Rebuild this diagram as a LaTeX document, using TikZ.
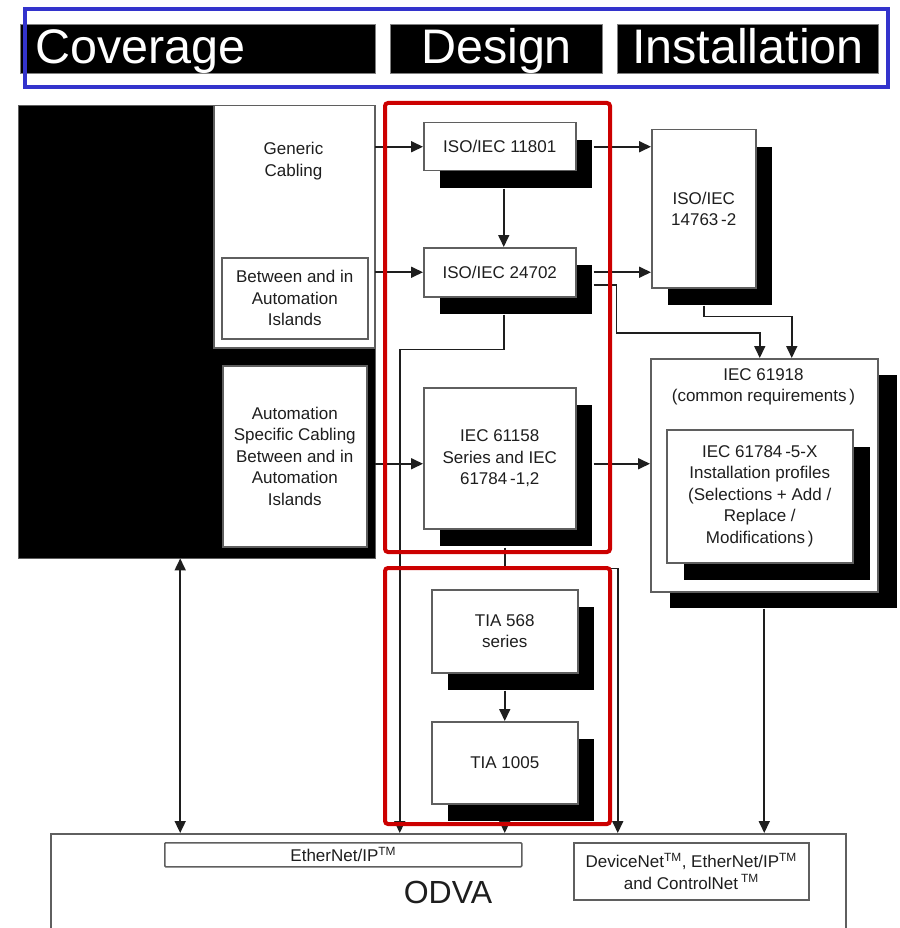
\documentclass[tikz,border=0pt]{standalone}
\usepackage{fontspec}
\setmainfont{Liberation Sans}
\usetikzlibrary{arrows.meta,shadows}
\definecolor{redf}{RGB}{204,0,0}
\definecolor{bluef}{RGB}{51,51,204}
\definecolor{edge}{RGB}{95,95,95}
\definecolor{ink}{RGB}{30,30,30}
\pgfdeclarelayer{front}
\pgfsetlayers{main,front}
\tikzset{
  every node/.style={font=\fontsize{17}{21.5}\selectfont, align=center, text=ink},
  stdbox/.style={draw=edge, line width=1.5pt, fill=white, anchor=north west, inner sep=0pt},
  shd/.style={drop shadow={shadow xshift=16pt, shadow yshift=-17pt, opacity=1, fill=black}},
  arr/.style={line width=1.7pt, draw=ink, -{Triangle[length=12pt,width=11pt]}},
  arrb/.style={line width=1.7pt, draw=ink, {Triangle[length=12pt,width=11pt]}-{Triangle[length=12pt,width=11pt]}},
  bar/.style={fill=black, draw=gray, line width=1pt, text=white, anchor=north west, inner sep=0pt,
    text height=37pt, text depth=8pt, font=\fontsize{48.5}{52}\selectfont},
  redframe/.style={draw=redf, line width=4pt, rounded corners=3pt, anchor=north west, inner sep=0pt},
}
\begin{document}
\begin{tikzpicture}[x=1pt,y=-1pt]
\useasboundingbox (0,0) rectangle (899,928);

% header bars
\node[bar, minimum width=355, minimum height=49, text width=325, align=left] (cov) at (20,24) {Coverage};
\node[bar, minimum width=212, minimum height=49] (des) at (390,24) {Design};
\node[bar, minimum width=261, minimum height=49] (inst) at (617,24) {Installation};
\node[draw=bluef, line width=4pt, anchor=north west, inner sep=0pt, minimum width=863, minimum height=78] (hdr) at (23,7) {};

% coverage column
\node[fill=black, draw=edge, anchor=north west, inner sep=0pt, minimum width=357, minimum height=453] (covblk) at (18,105) {};
\node[stdbox, minimum width=161, minimum height=242] (generic) at (213,105) {};
\node (generictxt) at (293.5,161) {Generic\\Cabling};
\node[stdbox, minimum width=146, minimum height=81] (betw) at (221,257) {Between and in\\Automation\\Islands};
\node[stdbox, minimum width=144, minimum height=181] (autos) at (222,365) {Automation\\Specific Cabling\\Between and in\\Automation\\Islands};

% design column
\node[stdbox, shd, minimum width=152, minimum height=48] (i11801) at (423,122) {ISO/IEC 11801};
\node[stdbox, shd, minimum width=152, minimum height=49] (i24702) at (423,247) {ISO/IEC 24702};
\node[stdbox, shd, minimum width=152, minimum height=141] (i61158) at (423,387) {IEC 61158\\Series and IEC\\61784\,-1,2};
\node[stdbox, shd, minimum width=146, minimum height=83] (t568) at (431,589) {TIA 568\\series};
\node[stdbox, shd, minimum width=146, minimum height=82] (t1005) at (431,721) {TIA 1005};

% installation column
\node[stdbox, shd, minimum width=104, minimum height=158] (i14763) at (651,129) {ISO/IEC\\14763\,-2};
\node[stdbox, drop shadow={shadow xshift=19pt, shadow yshift=-16pt, opacity=1, fill=black}, minimum width=227, minimum height=233] (i61918) at (650,358) {};
\node (i61918t) at (763.5,387) {IEC 61918\\(common requirements\,)};
\node[stdbox, drop shadow={shadow xshift=17pt, shadow yshift=-17pt, opacity=1, fill=black}, minimum width=186, minimum height=133] (i61784) at (666,429) {IEC 61784\,-5-X\\Installation profiles\\(Selections + Add /\\Replace /\\Modifications\,)};

% ODVA
\node[draw=edge, line width=1.5pt, anchor=north west, inner sep=0pt, minimum width=795, minimum height=130] (odva) at (50,833) {};
\node[font=\fontsize{32}{36}\selectfont] (odvat) at (448,892) {ODVA};
\node[stdbox, rounded corners=1pt, minimum width=357, minimum height=24] (eip) at (164,842) {EtherNet/IP\textsuperscript{TM}};
\node[stdbox, minimum width=235, minimum height=57] (dnet) at (573,842) {DeviceNet\textsuperscript{TM}, EtherNet/IP\textsuperscript{TM}\\and ControlNet\,\textsuperscript{TM}};

% connectors
\draw[arr] (i11801.west -| covblk.east) -- (i11801.west);
\draw[arr] (i24702.west -| covblk.east) -- (i24702.west);
\coordinate (a3) at ([yshift=-5.5pt]i61158.west);
\draw[arr] (a3 -| covblk.east) -- (a3);

\coordinate (s1) at ([xshift=17pt]i11801.east);
\draw[arr] (s1) -- (s1 -| i14763.west);
\coordinate (s2) at ([xshift=17pt]i24702.east);
\draw[arr] (s2) -- (s2 -| i14763.west);
\coordinate (e1) at ([xshift=17pt,yshift=-12.5pt]i24702.east);
\draw[arr] (e1) -- ++(23,0) -- ++(0,48) -| ([xshift=-4.5pt]i61918.north);
\draw[arr] ([yshift=-17pt]i14763.south) -- ++(0,11) -| ([xshift=27.5pt]i61918.north);
\coordinate (a4) at ([xshift=17pt,yshift=-5.5pt]i61158.east);
\draw[arr] (a4) -- (a4 -| i61918.west);

\draw[arr] ([xshift=4pt,yshift=-17pt]i11801.south) -- ([xshift=4pt]i24702.north);
\draw[arr] ([xshift=4pt,yshift=-17pt]i24702.south) -- ++(0,35) -| ([xshift=-48.5pt]odva.north);
\draw[arr] ([xshift=5pt,yshift=-18pt]i61158.south) -- ++(0,21) -| ([xshift=169.5pt]odva.north);
\draw[arr] ([yshift=-17pt]t568.south) -- (t1005.north);
\draw[arr] ([yshift=-16pt]t1005.south) -- (t1005.south |- odva.north);
\draw[arr] ([yshift=-16pt]i61918.south) -- (i61918.south |- odva.north);
\coordinate (b0) at ([xshift=-16.5pt]covblk.south);
\draw[arrb] (b0) -- (b0 |- odva.north);

% red group frames
\begin{pgfonlayer}{front}
\node[redframe, minimum width=225, minimum height=449] (red1) at (383,101) {};
\node[redframe, minimum width=225, minimum height=256] (red2) at (383,566) {};
\end{pgfonlayer}
\end{tikzpicture}
\end{document}
